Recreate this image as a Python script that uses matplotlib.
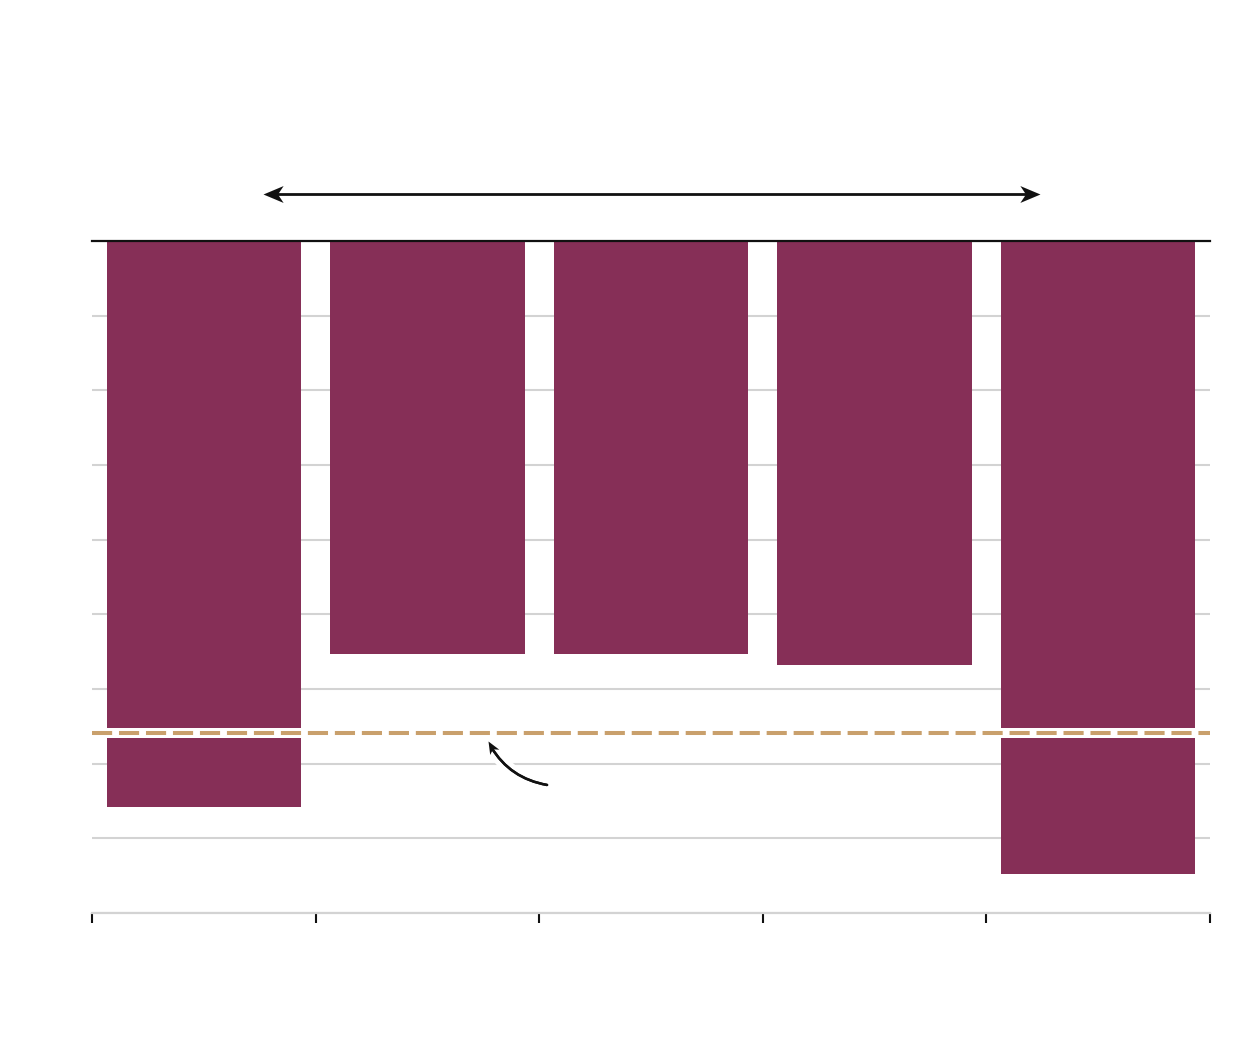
import numpy as np
import matplotlib.pyplot as plt
from matplotlib.path import Path
from matplotlib.markers import MarkerStyle
from matplotlib.transforms import Affine2D
from matplotlib.patches import FancyArrowPatch
import matplotlib.patheffects as pe

# valores (eje invertido, 0 arriba)
categorias = ["A", "B", "C", "D", "E"]
valores = [7.58, 5.53, 5.53, 5.68, 8.48]
referencia = 6.59
rango_flecha = [0.765, 4.24]
altura_flecha = -0.63
punta_curva = (1.771, 6.70)
cola_curva = (2.035, 7.285)

color_barra = "#862F57"
color_ref = "#C9A06C"
color_grid = "#D3D3D3"
negro = "#111111"

# punta de flecha concava, apuntando a +x con la punta en el origen
punta = Path([(0, 0), (-1, 0.42), (-0.72, 0), (-1, -0.42), (0, 0)],
             [Path.MOVETO, Path.LINETO, Path.LINETO, Path.LINETO, Path.CLOSEPOLY])


def marcador(angulo):
    return MarkerStyle(punta, transform=Affine2D().rotate_deg(angulo))


fig = plt.figure(figsize=(12.4, 10.58), dpi=100)
ax = fig.add_axes([92 / 1240, 145 / 1058, 1118 / 1240, 672 / 1058])

x = np.arange(len(categorias)) + 0.5
ax.bar(x, valores, width=0.87, color=color_barra, zorder=2)

ax.set_xlim(0, len(categorias))
ax.set_ylim(9, 0)
ax.set_xticks(np.arange(len(categorias) + 1))
ax.set_xticklabels([])
ax.set_yticks(np.arange(0, 10))
ax.set_yticklabels([])
ax.tick_params(axis="y", length=0)
ax.tick_params(axis="x", length=7.5, width=1.5, color=negro, direction="out")
ax.grid(axis="y", color=color_grid, lw=1.5)
ax.set_axisbelow(True)

for lado in ["left", "right"]:
    ax.spines[lado].set_visible(False)
ax.spines["top"].set_color(negro)
ax.spines["top"].set_linewidth(1.6)
ax.spines["top"].set_zorder(5)
ax.spines["bottom"].set_color(color_grid)
ax.spines["bottom"].set_linewidth(1.6)

# linea de referencia con borde blanco
ax.axhline(referencia, color="white", lw=7.2, zorder=3)
ax.axhline(referencia, color=color_ref, lw=2.9, dashes=(5, 1.7), zorder=4)

# flecha doble superior
x0, x1 = rango_flecha
ax.plot([x0 + 0.06, x1 - 0.06], [altura_flecha, altura_flecha], color=negro,
        lw=2.0, clip_on=False, solid_capstyle="butt")
ax.plot([x0], [altura_flecha], marker=marcador(180), ms=29, mew=0,
        color=negro, clip_on=False)
ax.plot([x1], [altura_flecha], marker=marcador(0), ms=29, mew=0,
        color=negro, clip_on=False)

# flecha curva hacia la referencia
curva = FancyArrowPatch(cola_curva, punta_curva, arrowstyle="-",
                        connectionstyle="arc3,rad=-0.25", color=negro, lw=1.8,
                        shrinkA=0, shrinkB=5, zorder=6,
                        path_effects=[pe.withStroke(linewidth=9, foreground="white"),
                                      pe.Normal()])
ax.add_patch(curva)
ax.plot([punta_curva[0]], [punta_curva[1]], marker=marcador(120), ms=18, mew=0,
        color=negro, zorder=7)

fig.savefig("out.png", dpi=100, facecolor="white")
